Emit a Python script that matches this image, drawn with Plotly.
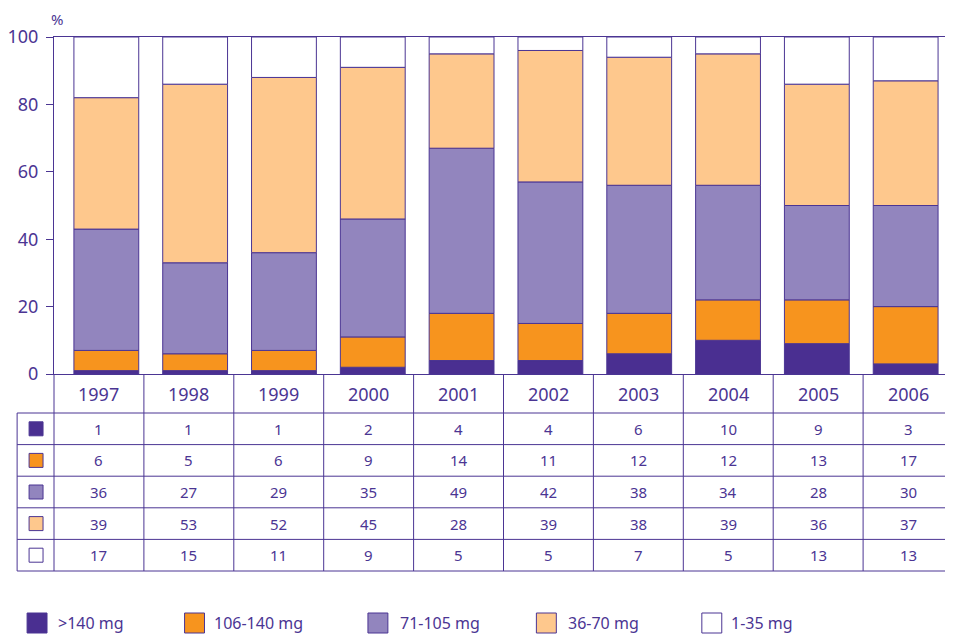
import plotly.graph_objects as go

years = [1997, 1998, 1999, 2000, 2001, 2002, 2003, 2004, 2005, 2006]
series_names = [">140 mg", "106-140 mg", "71-105 mg", "36-70 mg", "1-35 mg"]
v_gt140 = [1, 1, 1, 2, 4, 4, 6, 10, 9, 3]
v_106_140 = [6, 5, 6, 9, 14, 11, 12, 12, 13, 17]
v_71_105 = [36, 27, 29, 35, 49, 42, 38, 34, 28, 30]
v_36_70 = [39, 53, 52, 45, 28, 39, 38, 39, 36, 37]
v_1_35 = [17, 15, 11, 9, 5, 5, 7, 5, 13, 13]
colors = ["#4A2F91", "#F7941E", "#9285BE", "#FEC88D", "#FFFFFF"]
y_ticks = [0, 20, 40, 60, 80, 100]

series = [v_gt140, v_106_140, v_71_105, v_36_70, v_1_35]
PURPLE = "#4B3593"
FONT = "Noto Sans"

# page body has an 8px margin; work in reference-pixel coordinates
OFF = 8
W, H = 953 - OFF, 636 - OFF
ML, MR, MT, MB = 51 - OFF, 0, 37 - OFF, 636 - 571
PW, PH = W - ML - MR, H - MT - MB
D = (571 - 374) / PH  # bar domain bottom


def px2x(px):
    return (px - OFF - ML) / PW


def px2y(py):
    return (H - MB - (py - OFF)) / PH


row_bounds = [374, 413, 444.6, 476.2, 507.8, 539.4, 571]

fig = go.Figure()
cum = [0] * len(years)
for name, vals, col in zip(series_names[:4], series[:4], colors[:4]):
    fig.add_trace(go.Bar(
        x=years, y=vals, base=list(cum), name=name,
        marker=dict(color=col, line=dict(color=PURPLE, width=1)),
        width=0.73, xaxis="x2", yaxis="y", showlegend=False,
    ))
    cum = [c + v for c, v in zip(cum, vals)]
# lowest class: remainder up to 100 %
fig.add_trace(go.Bar(
    x=years, y=[100 - c for c in cum], base=list(cum), name=series_names[4],
    customdata=v_1_35, hovertemplate="%{x}: %{customdata}%<extra>1-35 mg</extra>",
    marker=dict(color=colors[4], line=dict(color=PURPLE, width=1)),
    width=0.73, xaxis="x2", yaxis="y", showlegend=False,
))

shapes = []
annotations = []
for i in range(11):
    shapes.append(dict(type="line", xref="paper", yref="paper",
                       x0=i / 10, x1=i / 10, y0=px2y(374), y1=px2y(571),
                       line=dict(color=PURPLE, width=1)))
shapes.append(dict(type="line", xref="paper", yref="paper",
                   x0=px2x(14), x1=px2x(14), y0=px2y(413), y1=px2y(571),
                   line=dict(color=PURPLE, width=1)))
for rb in row_bounds[1:]:
    shapes.append(dict(type="line", xref="paper", yref="paper",
                       x0=px2x(14), x1=1, y0=px2y(rb), y1=px2y(rb),
                       line=dict(color=PURPLE, width=1)))

for i, yr in enumerate(years):
    annotations.append(dict(xref="paper", yref="paper", x=(i + 0.5) / 10,
                            y=px2y((row_bounds[0] + row_bounds[1]) / 2),
                            text=str(yr), showarrow=False,
                            font=dict(family=FONT, size=18, color=PURPLE),
                            xanchor="center", yanchor="middle"))
for r, (vals, col) in enumerate(zip(series, colors)):
    yc = (row_bounds[r + 1] + row_bounds[r + 2]) / 2
    for i, v in enumerate(vals):
        annotations.append(dict(xref="paper", yref="paper", x=(i + 0.5) / 10,
                                y=px2y(yc), text=str(v), showarrow=False,
                                font=dict(family=FONT, size=15, color=PURPLE),
                                xanchor="center", yanchor="middle"))
    shapes.append(dict(type="rect", xref="paper", yref="paper",
                       x0=px2x(26), x1=px2x(40), y0=px2y(yc - 7), y1=px2y(yc + 7),
                       fillcolor=col, line=dict(color=PURPLE, width=1)))

leg_sw = [24, 182, 366, 535, 701]
leg_tx = [53, 210, 396, 565, 728]
for name, col, sx, tx in zip(series_names, colors, leg_sw, leg_tx):
    shapes.append(dict(type="rect", xref="paper", yref="paper",
                       x0=px2x(sx), x1=px2x(sx + 20), y0=px2y(613), y1=px2y(633),
                       fillcolor=col, line=dict(color=PURPLE, width=1)))
    annotations.append(dict(xref="paper", yref="paper", x=px2x(tx), y=px2y(623),
                            text=name, showarrow=False,
                            font=dict(family=FONT, size=16, color=PURPLE),
                            xanchor="left", yanchor="middle"))

annotations.append(dict(xref="paper", yref="paper", x=px2x(54), y=px2y(8),
                        text="%", showarrow=False,
                        font=dict(family=FONT, size=15, color=PURPLE),
                        xanchor="center", yanchor="top", borderpad=0))

fig.update_layout(
    width=W, height=H,
    margin=dict(l=ML, r=MR, t=MT, b=MB, pad=0),
    paper_bgcolor="white", plot_bgcolor="white",
    barmode="overlay",
    xaxis=dict(domain=[0, 1], anchor="y2", range=[1996.5, 2006.5], visible=False),
    yaxis2=dict(domain=[0, D], anchor="x", range=[1, 0], visible=False),
    xaxis2=dict(domain=[0, 1], anchor="y",
                range=[1997 - (103.5 - 51) / 89.11, 2006 + (953 - 905.5) / 89.11],
                showline=True, mirror=True, linecolor=PURPLE, linewidth=1,
                showticklabels=False, ticks="", showgrid=False, zeroline=False),
    yaxis=dict(domain=[D, 1], anchor="x2", range=[0, 100], tickvals=y_ticks,
               showline=True, linecolor=PURPLE, linewidth=1,
               ticks="outside", ticklen=7, tickcolor=PURPLE, tickwidth=1,
               showgrid=False, zeroline=False, ticklabelstandoff=4,
               tickfont=dict(family=FONT, size=18, color=PURPLE)),
    shapes=shapes, annotations=annotations,
)

fig.write_html("out.html")
